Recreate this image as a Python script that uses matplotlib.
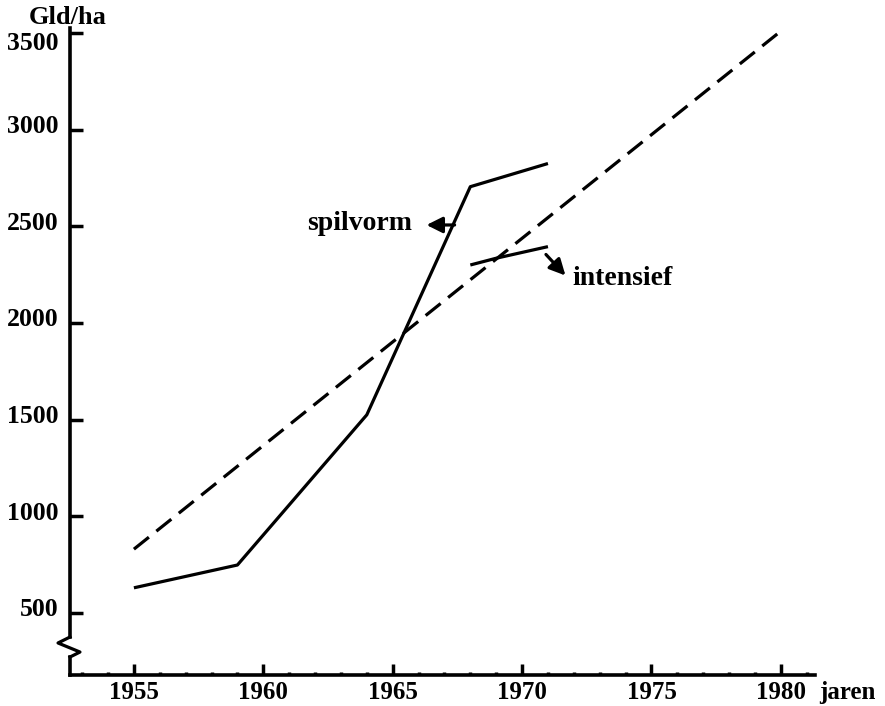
import matplotlib
matplotlib.use("Agg")
import matplotlib.pyplot as plt
from matplotlib.ticker import MultipleLocator
from matplotlib.transforms import ScaledTranslation

# spilvorm (solid), intensief (short solid), trend (dashed)
spil_years = [1955, 1959, 1964, 1968, 1971]
spil_values = [630, 748, 1525, 2705, 2825]

int_years = [1968, 1969, 1971]
int_values = [2300, 2335, 2395]

trend_years = [1955, 1980]
trend_values = [830, 3510]

y_ticks = [500, 1000, 1500, 2000, 2500, 3000, 3500]
x_ticks = [1955, 1960, 1965, 1970, 1975, 1980]

plt.rcParams['font.family'] = ['Liberation Serif', 'DejaVu Serif']
plt.rcParams['font.weight'] = 'bold'

fig = plt.figure(figsize=(8.85, 7.06), dpi=100)
ax = fig.add_axes([70 / 885, 31 / 706, 745 / 885, 647 / 706])

lw = 2.3
ax.plot(spil_years, spil_values, color="black", linewidth=lw, solid_capstyle="butt")
ax.plot(int_years, int_values, color="black", linewidth=lw, solid_capstyle="butt")
ax.plot(trend_years, trend_values, color="black", linewidth=lw, dashes=(6, 3))

ax.set_xlim(1952.53, 1981.32)
ax.set_ylim(179, 3526)

ax.set_xticks(x_ticks)
ax.set_yticks(y_ticks)
ax.xaxis.set_minor_locator(MultipleLocator(1))
ax.tick_params(axis="x", which="major", direction="in", length=8, width=2.5, pad=4, labelsize=18)
ax.tick_params(axis="x", which="minor", direction="in", length=2.5, width=2.5)
ax.tick_params(axis="y", which="major", direction="in", length=9, width=2.5, pad=8, labelsize=18.5)

# y labels sit a little above their ticks, the top one below
for val, lab in zip(y_ticks, ax.get_yticklabels()):
    dy = -6 if val == 3500 else 4
    lab.set_transform(lab.get_transform() + ScaledTranslation(0, dy / 72, fig.dpi_scale_trans))

for s in ["top", "right", "left"]:
    ax.spines[s].set_visible(False)
ax.spines["bottom"].set_linewidth(2.6)

# left axis with a break
yb0, yb1 = 0.0278, 0.0587
ax.plot([0, 0], [0, yb0], transform=ax.transAxes, color="black", lw=2.6, clip_on=False)
ax.plot([0, 0], [yb1, 1], transform=ax.transAxes, color="black", lw=2.6, clip_on=False)
ax.plot([0, -0.0161, 0.0134, 0], [yb1, 0.0495, 0.0355, yb0], transform=ax.transAxes,
        color="black", lw=2.3, clip_on=False)

# labels with arrows
ax.annotate("", xy=(1966.2, 2507), xytext=(1967.5, 2507),
            arrowprops=dict(arrowstyle="-|>", color="black", lw=2.3, mutation_scale=24))
ax.text(1965.75, 2481, "spilvorm", ha="right", va="baseline", fontsize=20)

ax.annotate("", xy=(1971.75, 2235), xytext=(1970.85, 2365),
            arrowprops=dict(arrowstyle="-|>", color="black", lw=2.3, mutation_scale=24))
ax.text(1971.95, 2197, "intensief", ha="left", va="baseline", fontsize=20)

ax.annotate("jaren", xy=(1, 0), xycoords="axes fraction", xytext=(3, -4),
            textcoords="offset points", ha="left", va="top", fontsize=18)
fig.text(29 / 885, 1 - 18 / 706, "Gld/ha", ha="left", va="center", fontsize=19)

fig.savefig("out.png", dpi=100)
